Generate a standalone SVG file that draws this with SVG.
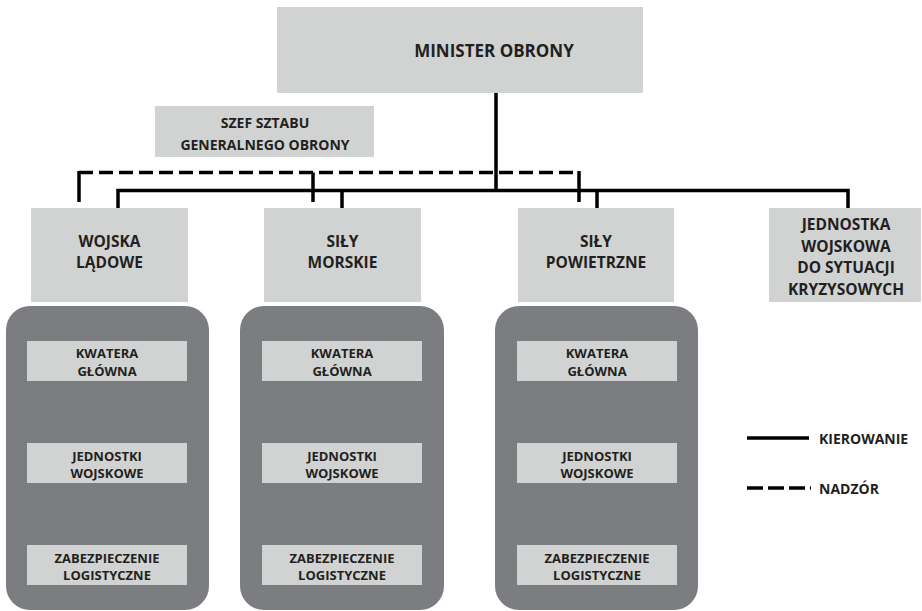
<svg xmlns="http://www.w3.org/2000/svg" width="922" height="611" viewBox="0 0 922 611">
<style>
.lb{fill:#d1d3d2}
.dk{fill:#7b7d80}
text{font-family:"Open Sans","Liberation Sans",sans-serif;font-weight:bold;fill:#231f20;text-anchor:middle}
.t17{font-size:17px}
.t15{font-size:15.5px}
.t14{font-size:14px}
.t13{font-size:13px}
.sl{fill:none;stroke:#000;stroke-width:3.5}
.ds{fill:none;stroke:#000;stroke-width:3.5;stroke-dasharray:14 6}
</style>
<rect width="922" height="611" fill="#fff"/>
<g id="connectors">
<path class="sl" d="M496 93V190.5M118 208V190.5H848V208M342 190.5V208M597 190.5V208"/>
<path class="ds" d="M79 172.5H579"/>
<path class="sl" d="M79 202V171M579 202V171M313 202V172.5"/>
</g>
<g id="minister"><rect class="lb" x="277" y="7" width="366" height="86"/><text class="t17" x="494" y="57">MINISTER OBRONY</text></g>
<g id="szef"><rect class="lb" x="155" y="106" width="219" height="51"/><text class="t14" x="265" y="128">SZEF SZTABU</text><text class="t14" x="265" y="150">GENERALNEGO OBRONY</text></g>
<g id="wojska"><rect class="lb" x="31" y="208" width="157" height="94"/><text class="t15" x="109.5" y="247">WOJSKA</text><text class="t15" x="109.5" y="268">LĄDOWE</text></g>
<g id="morskie"><rect class="lb" x="264" y="208" width="157" height="94"/><text class="t15" x="342.5" y="247">SIŁY</text><text class="t15" x="342.5" y="268">MORSKIE</text></g>
<g id="powietrzne"><rect class="lb" x="518" y="208" width="156" height="94"/><text class="t15" x="596" y="247">SIŁY</text><text class="t15" x="596" y="268">POWIETRZNE</text></g>
<g id="jednostka"><rect class="lb" x="769" y="208" width="152" height="94"/><text class="t15" x="846" y="230">JEDNOSTKA</text><text class="t15" x="846" y="251.7">WOJSKOWA</text><text class="t15" x="846" y="273.3">DO SYTUACJI</text><text class="t15" x="846" y="295">KRYZYSOWYCH</text></g>
<g id="grp-wojska"><rect class="dk" x="6" y="306" width="203" height="304" rx="24"/>
<rect class="lb" x="27" y="341" width="160" height="40"/><text class="t13" x="107" y="358">KWATERA</text><text class="t13" x="107" y="376">GŁÓWNA</text>
<rect class="lb" x="27" y="443" width="160" height="40"/><text class="t13" x="107" y="460.5">JEDNOSTKI</text><text class="t13" x="107" y="478">WOJSKOWE</text>
<rect class="lb" x="27" y="545" width="160" height="40"/><text class="t13" x="107" y="562.5">ZABEZPIECZENIE</text><text class="t13" x="107" y="580">LOGISTYCZNE</text></g>
<g id="grp-morskie"><rect class="dk" x="240" y="306" width="204" height="304" rx="24"/>
<rect class="lb" x="262" y="341" width="160" height="40"/><text class="t13" x="342" y="358">KWATERA</text><text class="t13" x="342" y="376">GŁÓWNA</text>
<rect class="lb" x="262" y="443" width="160" height="40"/><text class="t13" x="342" y="460.5">JEDNOSTKI</text><text class="t13" x="342" y="478">WOJSKOWE</text>
<rect class="lb" x="262" y="545" width="160" height="40"/><text class="t13" x="342" y="562.5">ZABEZPIECZENIE</text><text class="t13" x="342" y="580">LOGISTYCZNE</text></g>
<g id="grp-powietrzne"><rect class="dk" x="495" y="306" width="203" height="304" rx="24"/>
<rect class="lb" x="517" y="341" width="160" height="40"/><text class="t13" x="597" y="358">KWATERA</text><text class="t13" x="597" y="376">GŁÓWNA</text>
<rect class="lb" x="517" y="443" width="160" height="40"/><text class="t13" x="597" y="460.5">JEDNOSTKI</text><text class="t13" x="597" y="478">WOJSKOWE</text>
<rect class="lb" x="517" y="545" width="160" height="40"/><text class="t13" x="597" y="562.5">ZABEZPIECZENIE</text><text class="t13" x="597" y="580">LOGISTYCZNE</text></g>
<g id="legend">
<path class="sl" d="M747 438H809"/>
<path class="sl" d="M747 488H811" stroke-dasharray="16 5"/>
<text class="t14" x="819" y="444" style="text-anchor:start">KIEROWANIE</text>
<text class="t14" x="819" y="494" style="text-anchor:start">NADZÓR</text>
</g>
</svg>
